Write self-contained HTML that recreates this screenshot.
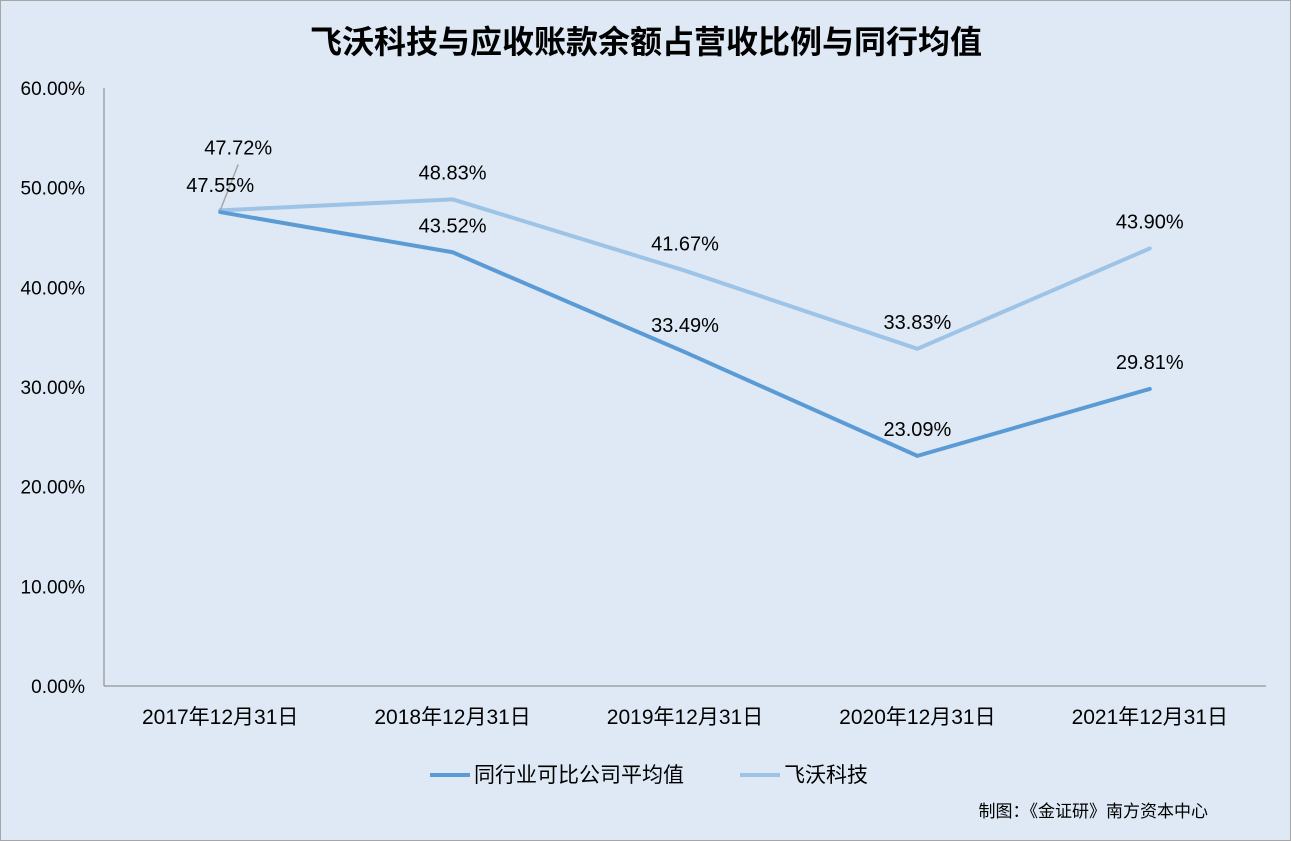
<!DOCTYPE html>
<html><head><meta charset="utf-8">
<style>
body{margin:0;background:#fff}
#wrap{width:1291px;height:841px;position:relative;overflow:hidden}
svg text{font-family:"Liberation Sans","Noto Sans CJK SC",sans-serif}
</style></head>
<body>
<div id="wrap">
<svg id="chart" width="1291" height="841" xmlns="http://www.w3.org/2000/svg">
<rect x="0.5" y="0.5" width="1290" height="840" fill="#dee9f5" stroke="#a6a6a6"/>
<text x="646" y="53" text-anchor="middle" font-size="32" font-weight="bold" fill="#000">飞沃科技与应收账款余额占营收比例与同行均值</text>
<g id="axes"></g>
<g id="series"></g>
<g>
<line x1="430" y1="775" x2="470" y2="775" stroke="#5b9bd5" stroke-width="4"/>
<text x="474" y="782" font-size="21">同行业可比公司平均值</text>
<line x1="740" y1="775" x2="780" y2="775" stroke="#9dc3e6" stroke-width="4"/>
<text x="784" y="782" font-size="21">飞沃科技</text>
</g>
<text x="1208" y="817" text-anchor="end" font-size="17">制图：《金证研》南方资本中心</text>
</svg>
</div>
<script>
const categories=["2017年12月31日","2018年12月31日","2019年12月31日","2020年12月31日","2021年12月31日"];
const industryValues=[47.55,43.52,33.49,23.09,29.81];
const feiwoValues=[47.72,48.83,41.67,33.83,43.90];
const yTicks=[0,10,20,30,40,50,60];
const NS="http://www.w3.org/2000/svg";
const L=104,R=1266,T=88,B=686,yMax=60;
const xs=i=>L+(R-L)/categories.length*(i+0.5);
const ys=v=>B-(B-T)*v/yMax;
function mk(tag,attrs,parent,txt){const e=document.createElementNS(NS,tag);for(const k in attrs)e.setAttribute(k,attrs[k]);if(txt!==undefined)e.textContent=txt;parent.appendChild(e);return e;}
const ax=document.getElementById('axes');
const yl=mk('line',{x1:L,y1:T,x2:L,y2:B,stroke:'#808080'},ax);


const xl=mk('line',{x1:L,y1:B,x2:R,y2:B,stroke:'#808080'},ax);


yTicks.forEach(v=>{const t=mk('text',{x:85,y:ys(v)+7,'text-anchor':'end','font-size':19},ax,v.toFixed(2)+'%');

});
categories.forEach((c,i)=>{const t=mk('text',{x:xs(i),y:724,'text-anchor':'middle','font-size':21},ax,c);

});
const sg=document.getElementById('series');
function drawSeries(vals,color,name){
 const p=mk('polyline',{points:vals.map((v,i)=>xs(i)+','+ys(v)).join(' '),fill:'none',stroke:color,'stroke-width':4,'stroke-linejoin':'round','stroke-linecap':'round'},sg);
 
 
}
drawSeries(feiwoValues,'#9dc3e6','feiwo');
drawSeries(industryValues,'#5b9bd5','industry');
function labels(vals,name,offFirst){
 vals.forEach((v,i)=>{let y=ys(v)-20;let x=xs(i);
  if(i===0&&offFirst){y=ys(v)-56;x=xs(i)+18;
   const ln=mk('line',{x1:xs(i),y1:ys(v),x2:xs(i)+18,y2:ys(v)-46,stroke:'#a6a6a6','stroke-width':1.5},sg);
   
   }
  const t=mk('text',{x:x,y:y,'text-anchor':'middle','font-size':20},sg,v.toFixed(2)+'%');
  
  });
}
labels(feiwoValues,'feiwo',true);
labels(industryValues,'industry',false);
</script>
</body></html>
